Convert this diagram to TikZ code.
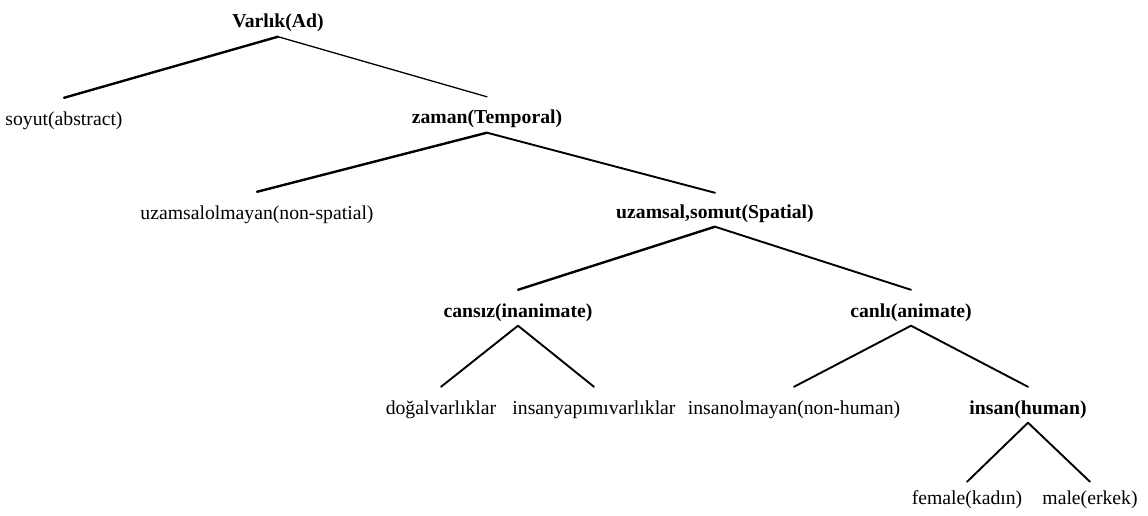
\documentclass[tikz,border=0pt]{standalone}
\usepackage{fontspec}
\setmainfont{Liberation Serif}
\begin{document}
\begin{tikzpicture}[x=1pt,y=-1pt,
  lbl/.style={inner sep=0pt, text height=14pt, text depth=4pt,
              font=\fontsize{19.7}{23}\selectfont},
  blbl/.style={lbl, font=\fontsize{19.7}{23}\selectfont\bfseries},
  branch/.style={line width=1.9pt, line cap=round},
  heavybranch/.style={line width=2.4pt, line cap=round},
  lightbranch/.style={line width=1.3pt, line cap=round}]
\useasboundingbox (0,0) rectangle (1148,516);

% tree labels
\node[blbl] (varlik)  at (278,23)  {Varlık(Ad)};
\node[lbl]  (soyut)   at (64,120)  {soyut(abstract)};
\node[blbl] (zaman)   at (487,119) {zaman(Temporal)};
\node[lbl]  (nonsp)   at (257,214) {uzamsalolmayan(non-spatial)};
\node[blbl] (spatial) at (715,213) {uzamsal,somut(Spatial)};
\node[blbl] (cansiz)  at (518,312) {cansız(inanimate)};
\node[blbl] (canli)   at (911,312) {canlı(animate)};
\node[lbl]  (dogal)   at (441,409) {doğalvarlıklar};
\node[lbl]  (yapim)   at (594,409) {insanyapımıvarlıklar};
\node[lbl]  (nonhum)  at (794,409) {insanolmayan(non-human)};
\node[blbl] (insan)   at (1028,409) {insan(human)};
\node[lbl]  (female)  at (967,499) {female(kadın)};
\node[lbl]  (male)    at (1090,499) {male(erkek)};

% branches
\foreach \p/\c/\s/\g in {varlik/soyut/heavybranch/13pt,
                         varlik/zaman/lightbranch/13pt,
                         zaman/nonsp/heavybranch/13pt,
                         zaman/spatial/branch/11pt,
                         spatial/cansiz/heavybranch/13pt,
                         spatial/canli/branch/13pt,
                         cansiz/dogal/branch/13pt,
                         cansiz/yapim/branch/13pt,
                         canli/nonhum/branch/13pt,
                         canli/insan/branch/13pt,
                         insan/female/branch/8pt,
                         insan/male/branch/8pt}
  \draw[\s] ([yshift=-4.5pt]\p.south) -- ([yshift=\g]\c.north);
\end{tikzpicture}
\end{document}
